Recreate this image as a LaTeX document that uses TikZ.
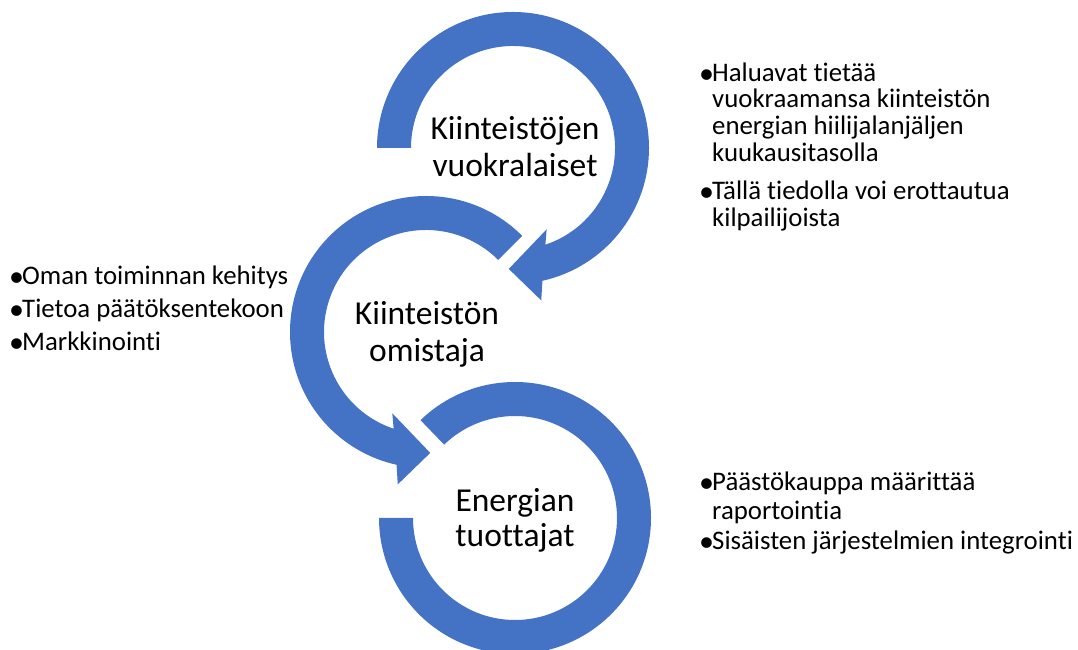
\documentclass[tikz,border=0pt]{standalone}
\usepackage{fontspec}
\setmainfont{Carlito}[Ligatures=NoCommon]
\usetikzlibrary{calc}
\definecolor{ringblue}{HTML}{4472C4}
\begin{document}
\begin{tikzpicture}[x=1pt,y=1pt,
  ring/.style={fill=ringblue, draw=none},
  lbl/.style={font=\fontsize{33.5}{37}\selectfont, anchor=base, inner sep=0pt},
  txt/.style={font=\fontsize{26.8}{27}\selectfont, anchor=base west, inner sep=0pt},
  dot/.style={font=\fontsize{30}{30}\selectfont, anchor=base west, inner sep=0pt, yshift=-1.2pt},
]
\clip (0,0) rectangle (1078,650);

% ring centres
\coordinate (c1) at (513,502);
\coordinate (c2) at (426,318);
\coordinate (c3) at (515,132);

% upper ring: clockwise from the left, head at the bottom
\fill[ring] ($(c1)+(180:136)$) arc[start angle=180, end angle=-77.5, radius=136]
  -- ($(c1)+(-79.5:155)$) -- ($(c1)+(-92:121)$) -- ($(c1)+(-67.5:88)$)
  -- ($(c1)+(-71.5:102)$) arc[start angle=-71.5, end angle=180, radius=102] -- cycle;

% middle ring: counter-clockwise from the upper right, head at the bottom
\fill[ring] ($(c2)+(45:136)$) arc[start angle=45, end angle=257.5, radius=136]
  -- ($(c2)+(259.5:155)$) -- ($(c2)+(272:121)$) -- ($(c2)+(247.5:88)$)
  -- ($(c2)+(251.5:102)$) arc[start angle=251.5, end angle=45, radius=102] -- cycle;

% lower ring: clockwise from the upper left round to the left side
\fill[ring] ($(c3)+(134:136)$) arc[start angle=134, end angle=-180, radius=136]
  -- ($(c3)+(180:102)$) arc[start angle=-180, end angle=134, radius=102] -- cycle;

% ring labels
\node[lbl] (l1a) at (515,510) {Kiinteistöjen};
\node[lbl] (l1b) at (515,473) {vuokralaiset};
\node[lbl] (l2a) at (427,325) {Kiinteistön};
\node[lbl] (l2b) at (427,288) {omistaja};
\node[lbl] (l3a) at (515,138) {Energian};
\node[lbl] (l3b) at (515,103) {tuottajat};

% tenants
\node[dot] (b1) at (699,568) {•};
\node[txt] (t1a) at (712,568) {Haluavat tietää};
\node[txt] (t1b) at (712,542) {vuokraamansa kiinteistön};
\node[txt] (t1c) at (712,515) {energian hiilijalanjäljen};
\node[txt] (t1d) at (712,488) {kuukausitasolla};
\node[dot] (b2) at (699,450) {•};
\node[txt] (t2a) at (712,450) {Tällä tiedolla voi erottautua};
\node[txt] (t2b) at (712,423) {kilpailijoista};

% owner
\node[dot] (b3) at (9,365) {•};
\node[txt] (t3) at (22,365) {Oman toiminnan kehitys};
\node[dot] (b4) at (9,332) {•};
\node[txt] (t4) at (22,332) {Tietoa päätöksentekoon};
\node[dot] (b5) at (9,299) {•};
\node[txt] (t5) at (22,299) {Markkinointi};

% producers
\node[dot] (b6) at (699,159) {•};
\node[txt] (t6a) at (712,159) {Päästökauppa määrittää};
\node[txt] (t6b) at (712,130) {raportointia};
\node[dot] (b7) at (699,100) {•};
\node[txt] (t7) at (712,100) {Sisäisten järjestelmien integrointi};
\end{tikzpicture}
\end{document}
